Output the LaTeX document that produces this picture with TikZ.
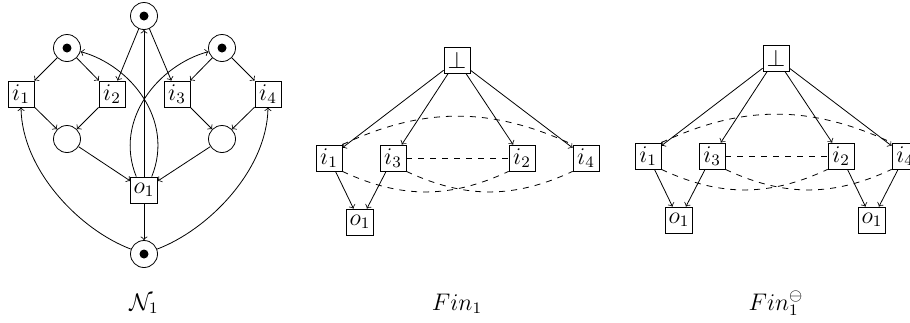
\documentclass[tikz,border=0pt]{standalone}
\usepackage{amsmath}
\usepackage{amssymb}
\usepackage{tikz}
\usepackage{xcolor}

\begin{document}
\begin{tikzpicture}[x=0.5pt,y=-0.5pt,font=\large,
		place/.style={draw,circle,minimum size=13.5pt,inner sep=0pt},
		trans/.style={draw,rectangle,minimum size=13pt,inner sep=1.5pt},
		token/.style={fill=black}]
		\useasboundingbox (0,0) rectangle (910,322);
		
		% Draw the places of the net N_1 and put the tokens in them
		\node[place] (pt) at (144,16) {};
		\node[place] (pl) at (67,48) {};
		\node[place] (pr) at (222,48) {};
		\node[place] (ql) at (67,139) {};
		\node[place] (qr) at (222,139) {};
		\node[place] (pb) at (144,254) {};
		\fill[token] (pt.center) circle (2.25pt);
		\fill[token] (pl.center) circle (2.25pt);
		\fill[token] (pr.center) circle (2.25pt);
		\fill[token] (pb.center) circle (2.25pt);
		
		% Draw the transitions of N_1
		\node[trans] (i1) at (21,94) {$i_1$};
		\node[trans] (i2) at (112,94) {$i_2$};
		\node[trans] (i3) at (177,94) {$i_3$};
		\node[trans] (i4) at (268,94) {$i_4$};
		\node[trans] (o1) at (144,190) {$o_1$};
		
		% Draw the arcs of N_1
		\draw[->] (pt) -- (i2);
		\draw[->] (pt) -- (i3);
		\draw[->] (o1) -- (pt);
		\draw[->] (pl) -- (i1);
		\draw[->] (pl) -- (i2);
		\draw[->] (pr) -- (i3);
		\draw[->] (pr) -- (i4);
		\draw[->] (i1) -- (ql);
		\draw[->] (i2) -- (ql);
		\draw[->] (i3) -- (qr);
		\draw[->] (i4) -- (qr);
		\draw[->] (ql) -- (o1);
		\draw[->] (qr) -- (o1);
		\draw[->] (o1) -- (pb);
		\draw[->] (o1.60) .. controls +(23,-57) and +(63,17) .. (pl); % back to the left place
		\draw[->] (o1.120) .. controls +(-23,-57) and +(-63,17) .. (pr); % back to the right place
		\draw[->] (pb) .. controls +(-64,-24) and +(1,63) .. (i1.south);
		\draw[->] (pb) .. controls +(64,-24) and +(-1,63) .. (i4.south);
		\node[anchor=base] (lab1) at (144,310) {$\mathcal{N}_1$};
		
		% Draw Fin_1
		\node[trans] (bot) at (457,60) {$\bot$};
		\node[trans] (fi1) at (329,158) {$i_1$};
		\node[trans] (fi3) at (393,158) {$i_3$};
		\node[trans] (fi2) at (522,158) {$i_2$};
		\node[trans] (fi4) at (586,158) {$i_4$};
		\node[trans] (fo1) at (360,222) {$o_1$};
		\draw[->] (bot) -- (fi1);
		\draw[->] (bot) -- (fi3);
		\draw[->] (bot) -- (fi2);
		\draw[->] (bot) -- (fi4);
		\draw[->] (fi1) -- (fo1);
		\draw[->] (fi3) -- (fo1);
		\draw[dashed] (fi1.north east) to[out=25,in=155] (fi4.north west);
		\draw[dashed] (fi3) -- (fi2);
		\draw[dashed] (fi1.south east) to[out=-25,in=-155] (fi2.south west);
		\draw[dashed] (fi3.south east) to[out=-25,in=-155] (fi4.south west);
		\node[anchor=base] (lab2) at (457,310) {$Fin_1$};
		
		% Draw Fin_1 with the second output
		\begin{scope}[shift={(319,-2)}]
			\node[trans] (gbot) at (457,60) {$\bot$};
			\node[trans] (gi1) at (329,158) {$i_1$};
			\node[trans] (gi3) at (393,158) {$i_3$};
			\node[trans] (gi2) at (522,158) {$i_2$};
			\node[trans] (gi4) at (586,158) {$i_4$};
			\node[trans] (go1) at (360,222) {$o_1$};
			\node[trans] (go2) at (553,222) {$o_1$};
			\draw[->] (gbot) -- (gi1);
			\draw[->] (gbot) -- (gi3);
			\draw[->] (gbot) -- (gi2);
			\draw[->] (gbot) -- (gi4);
			\draw[->] (gi1) -- (go1);
			\draw[->] (gi3) -- (go1);
			\draw[->] (gi2) -- (go2);
			\draw[->] (gi4) -- (go2);
			\draw[dashed] (gi1.north east) to[out=25,in=155] (gi4.north west);
			\draw[dashed] (gi3) -- (gi2);
			\draw[dashed] (gi1.south east) to[out=-25,in=-155] (gi2.south west);
			\draw[dashed] (gi3.south east) to[out=-25,in=-155] (gi4.south west);
			\node[anchor=base] (lab3) at (457,312) {$Fin_1^{\ominus}$};
		\end{scope}
	\end{tikzpicture}
\end{document}
